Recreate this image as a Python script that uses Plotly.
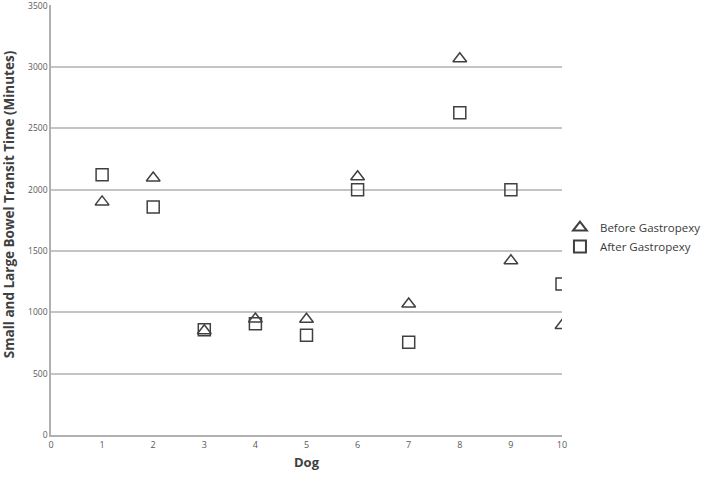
import plotly.graph_objects as go

dogs = [1, 2, 3, 4, 5, 6, 7, 8, 9, 10]
before = [1900, 2095, 850, 945, 943, 2105, 1068, 3067, 1420, 893]
after = [2121, 1859, 857, 906, 814, 2000, 757, 2627, 2000, 1230]

x_ticks = list(range(0, 11))
y_ticks = list(range(0, 3501, 500))

font_family = "'Open Sans', Lato, sans-serif"
mcolor = "#404040"

fig = go.Figure()
fig.add_trace(go.Scatter(
    x=dogs, y=before, mode="markers", name="Before Gastropexy",
    marker=dict(symbol="triangle-up-open", size=12, color=mcolor,
                line=dict(width=1.5, color=mcolor)),
))
fig.add_trace(go.Scatter(
    x=dogs, y=after, mode="markers", name="After Gastropexy",
    marker=dict(symbol="square-open", size=12, color=mcolor,
                line=dict(width=1.5, color=mcolor)),
))

fig.update_layout(
    width=709, height=480,
    margin=dict(l=51, r=147, t=5, b=45, autoexpand=False),
    paper_bgcolor="white", plot_bgcolor="white",
    font=dict(family=font_family, color="#595959"),
    showlegend=True,
    legend=dict(x=0.996, y=0.516, xanchor="left", yanchor="top",
                font=dict(size=11.5, color="#3a3a3a"),
                itemsizing="constant", itemwidth=30, tracegroupgap=0,
                bgcolor="rgba(0,0,0,0)"),
    xaxis=dict(range=[0, 10], tickvals=x_ticks, ticktext=[str(v) for v in x_ticks],
               showgrid=False, zeroline=False, showline=True,
               linecolor="#b0b0b0", linewidth=1.5, ticks="",
               ticklabeloverflow="allow", automargin=False,
               tickfont=dict(size=9, color="#595959"),
               title=dict(text="<b>Dog</b>", font=dict(size=13, color="#404040"), standoff=8)),
    yaxis=dict(range=[0, 3505], tickvals=y_ticks, ticktext=[str(v) for v in y_ticks],
               showgrid=True, gridcolor="#c4c4c4", gridwidth=1.5,
               zeroline=False, showline=True, linecolor="#b0b0b0", linewidth=1.5,
               ticks="", ticklabeloverflow="allow", automargin=False,
               tickfont=dict(size=8.5, color="#595959")),
    annotations=[dict(
        text="<b>Small and Large Bowel Transit Time (Minutes)</b>",
        xref="paper", yref="paper", x=-0.082, y=0.537,
        xanchor="center", yanchor="middle", textangle=-90, showarrow=False,
        font=dict(size=13.5, color="#404040"),
    )],
)

fig.write_html("out.html", config={"displayModeBar": False},
               post_script="document.body.style.margin='0';document.body.style.overflow='hidden';")
